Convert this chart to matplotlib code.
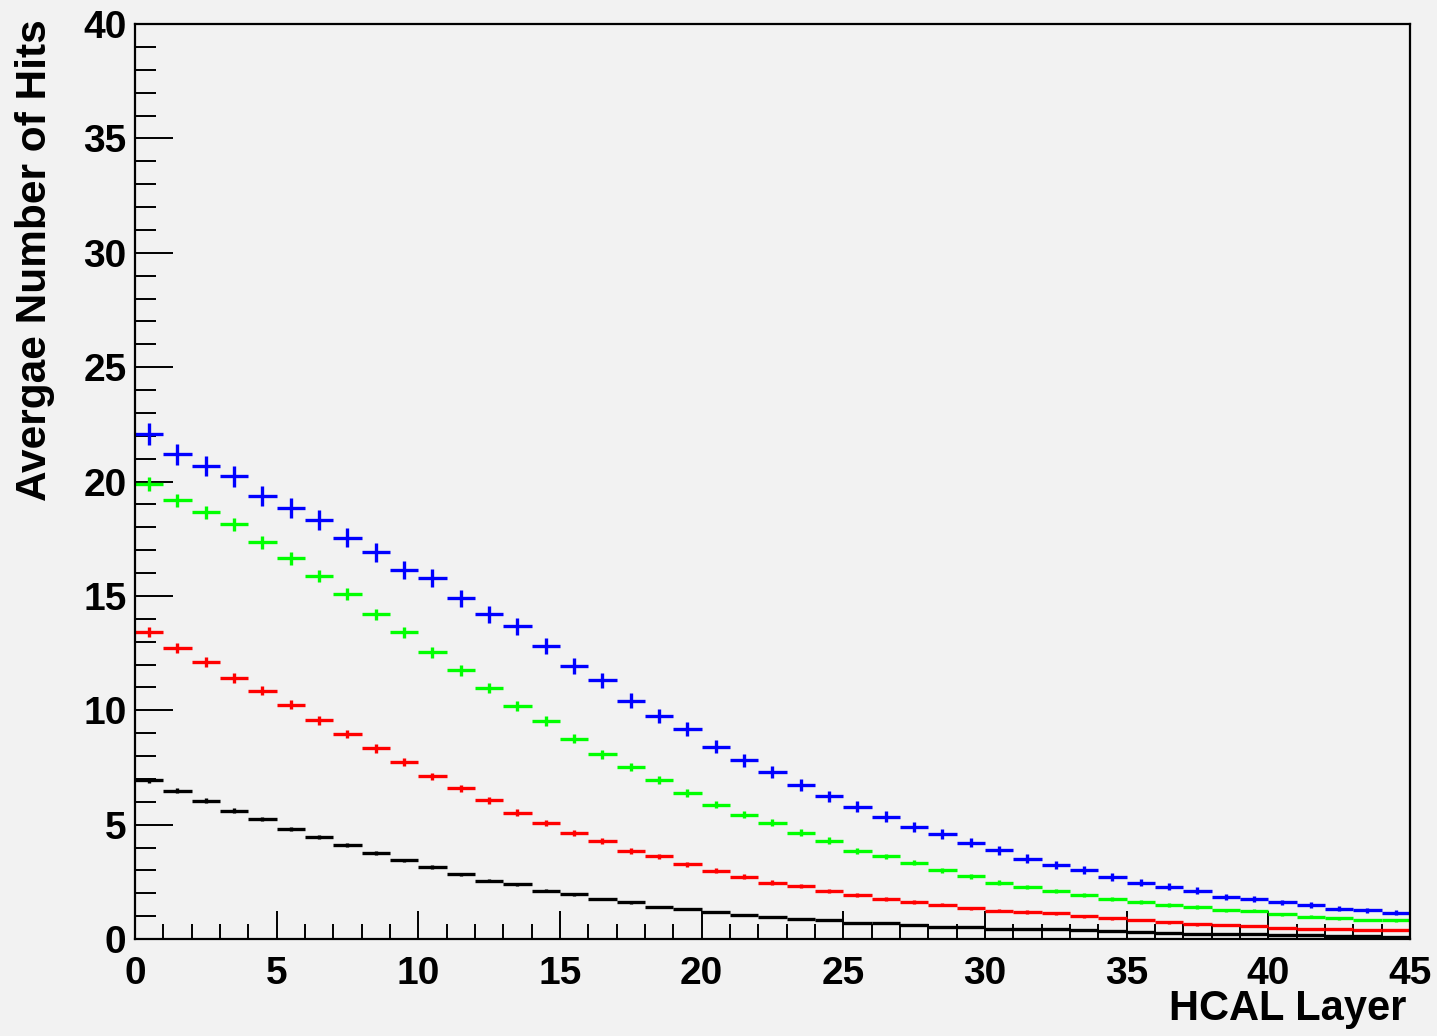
import numpy as np
import matplotlib.pyplot as plt
from matplotlib.ticker import MultipleLocator

# average hits per HCAL layer, one value per layer 0..44
blue = [22.08, 21.2, 20.68, 20.23, 19.35, 18.83, 18.32, 17.54, 16.9, 16.12,
        15.77, 14.89, 14.19, 13.67, 12.8, 11.92, 11.31, 10.42, 9.75, 9.19,
        8.41, 7.81, 7.29, 6.73, 6.24, 5.78, 5.35, 4.91, 4.58, 4.21,
        3.88, 3.51, 3.25, 3.0, 2.72, 2.46, 2.29, 2.11, 1.85, 1.73,
        1.6, 1.49, 1.33, 1.25, 1.15]
green = [19.89, 19.18, 18.65, 18.13, 17.34, 16.64, 15.87, 15.08, 14.19, 13.41,
         12.53, 11.75, 10.96, 10.17, 9.54, 8.76, 8.07, 7.53, 6.94, 6.4,
         5.87, 5.43, 5.08, 4.65, 4.3, 3.86, 3.61, 3.34, 3.0, 2.74,
         2.46, 2.27, 2.11, 1.92, 1.75, 1.6, 1.49, 1.39, 1.25, 1.24,
         1.08, 0.98, 0.9, 0.83, 0.82]
red = [13.42, 12.71, 12.1, 11.4, 10.86, 10.25, 9.56, 8.96, 8.33, 7.74,
       7.11, 6.59, 6.06, 5.52, 5.08, 4.65, 4.3, 3.86, 3.61, 3.26,
       2.99, 2.72, 2.47, 2.32, 2.11, 1.94, 1.76, 1.62, 1.5, 1.34,
       1.24, 1.18, 1.12, 1.0, 0.9, 0.83, 0.73, 0.64, 0.61, 0.57,
       0.47, 0.46, 0.44, 0.41, 0.38]
black = [6.95, 6.48, 6.05, 5.61, 5.26, 4.82, 4.47, 4.12, 3.77, 3.44,
         3.15, 2.83, 2.55, 2.39, 2.11, 1.95, 1.76, 1.6, 1.41, 1.31,
         1.18, 1.06, 0.97, 0.87, 0.82, 0.71, 0.69, 0.61, 0.54, 0.54,
         0.45, 0.44, 0.42, 0.4, 0.36, 0.3, 0.27, 0.24, 0.22, 0.2,
         0.18, 0.16, 0.14, 0.12, 0.11]
# number of events per sample (sets the poisson error bars)
n_events = {'blue': 100, 'green': 220, 'red': 250, 'black': 600}

plt.rcParams['font.family'] = ['Liberation Sans', 'DejaVu Sans']
plt.rcParams['font.weight'] = 'bold'

bg = '#f2f2f2'
fig = plt.figure(figsize=(14.37, 10.36), dpi=100, facecolor=bg)
ax = fig.add_axes([0.0939, 0.0936, 0.8873, 0.8832], facecolor=bg)

layers = np.arange(len(blue)) + 0.5
series = [(blue, '#0000ff', 'blue'), (green, '#00ff00', 'green'),
          (red, '#ff0000', 'red'), (black, '#000000', 'black')]
for vals, col, name in series:
    v = np.array(vals)
    err = np.sqrt(v / n_events[name])
    ax.errorbar(layers, v, xerr=0.5, yerr=err, fmt='none', ecolor=col,
                elinewidth=2.4, capsize=0)

ax.set_xlim(0, 45)
ax.set_ylim(0, 40)
ax.xaxis.set_major_locator(MultipleLocator(5))
ax.xaxis.set_minor_locator(MultipleLocator(1))
ax.yaxis.set_major_locator(MultipleLocator(5))
ax.yaxis.set_minor_locator(MultipleLocator(1))
ax.tick_params(axis='x', which='major', direction='in', length=20, width=1.4,
               labelsize=28, pad=12)
ax.tick_params(axis='x', which='minor', direction='in', length=10.5, width=1.4)
ax.tick_params(axis='y', which='major', direction='in', length=27, width=1.4,
               labelsize=28, pad=6)
ax.tick_params(axis='y', which='minor', direction='in', length=15, width=1.4)
for s in ax.spines.values():
    s.set_linewidth(1.6)

ax.set_xlabel('HCAL Layer', fontsize=30, fontweight='bold', ha='right')
ax.xaxis.set_label_coords(0.997, -0.055)
ax.set_ylabel('Avergae Number of Hits', fontsize=30.5, fontweight='bold', ha='right')
ax.yaxis.set_label_coords(-0.063, 1.005)

fig.savefig('out.png', dpi=100, facecolor=bg)
